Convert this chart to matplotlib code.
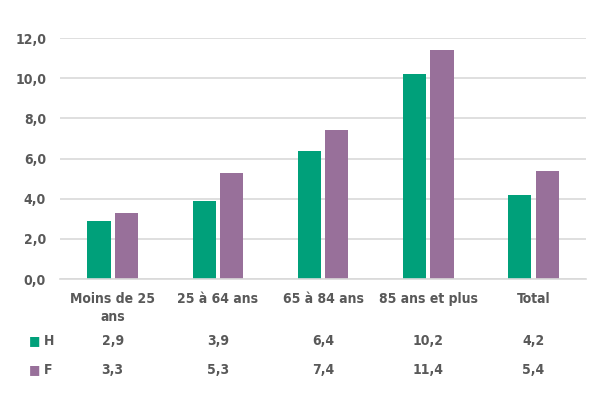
import numpy as np
import matplotlib
matplotlib.use("Agg")
import matplotlib.pyplot as plt
from matplotlib.transforms import blended_transform_factory

# data
categories = ["Moins de 25\nans", "25 à 64 ans", "65 à 84 ans", "85 ans et plus", "Total"]
h_values = [2.9, 3.9, 6.4, 10.2, 4.2]
f_values = [3.3, 5.3, 7.4, 11.4, 5.4]
series_names = ["H", "F"]
y_ticks = [0, 2, 4, 6, 8, 10, 12]

green = "#00A07A"
purple = "#98709A"
grey_txt = "#595959"

plt.rcParams['font.family'] = ['DejaVu Sans']
plt.rcParams['font.stretch'] = 'condensed'

fig = plt.figure(figsize=(6.0, 3.93), dpi=100)
ax = fig.add_axes([0.1, 0.29, 0.877, 0.613])

x = np.arange(len(categories))
w = 0.22
ax.bar(x - w/2 - 0.02, h_values, width=w, color=green)
ax.bar(x + w/2 + 0.02, f_values, width=w, color=purple)

ax.set_xlim(-0.5, len(categories) - 0.5)
ax.set_ylim(0, 12)
ax.set_yticks(y_ticks)
ax.set_yticklabels([("%.1f" % v).replace(".", ",") for v in y_ticks])
ax.tick_params(axis='y', length=0, pad=10, labelsize=10, labelcolor=grey_txt)
for lab in ax.get_yticklabels():
    lab.set_fontweight('bold')
ax.set_xticks([])

ax.grid(axis='y', color='#D9D9D9', linewidth=1.2)
ax.set_axisbelow(True)
for s in ['top', 'right', 'left']:
    ax.spines[s].set_visible(False)
ax.spines['bottom'].set_color('#D9D9D9')
ax.spines['bottom'].set_linewidth(1.2)

# category labels and data table below
trans = blended_transform_factory(ax.transData, fig.transFigure)
for i, cat in enumerate(categories):
    ax.text(i, 1 - 292/393, cat, transform=trans, ha='center', va='top',
            fontsize=10, fontweight='bold', color=grey_txt, linespacing=1.4)

rows_y = [1 - 341/393, 1 - 370/393]
for vals, name, col, yy in zip([h_values, f_values], series_names, [green, purple], rows_y):
    for i, v in enumerate(vals):
        ax.text(i, yy, ("%.1f" % v).replace(".", ","), transform=trans,
                ha='center', va='center', fontsize=10, fontweight='bold', color=grey_txt)
    fig.text(29/600, yy, "■", ha='left', va='center', fontsize=9.5, color=col)
    fig.text(44/600, yy, name, ha='left', va='center', fontsize=10,
             fontweight='bold', color=grey_txt)

fig.savefig("out.png", dpi=100)
